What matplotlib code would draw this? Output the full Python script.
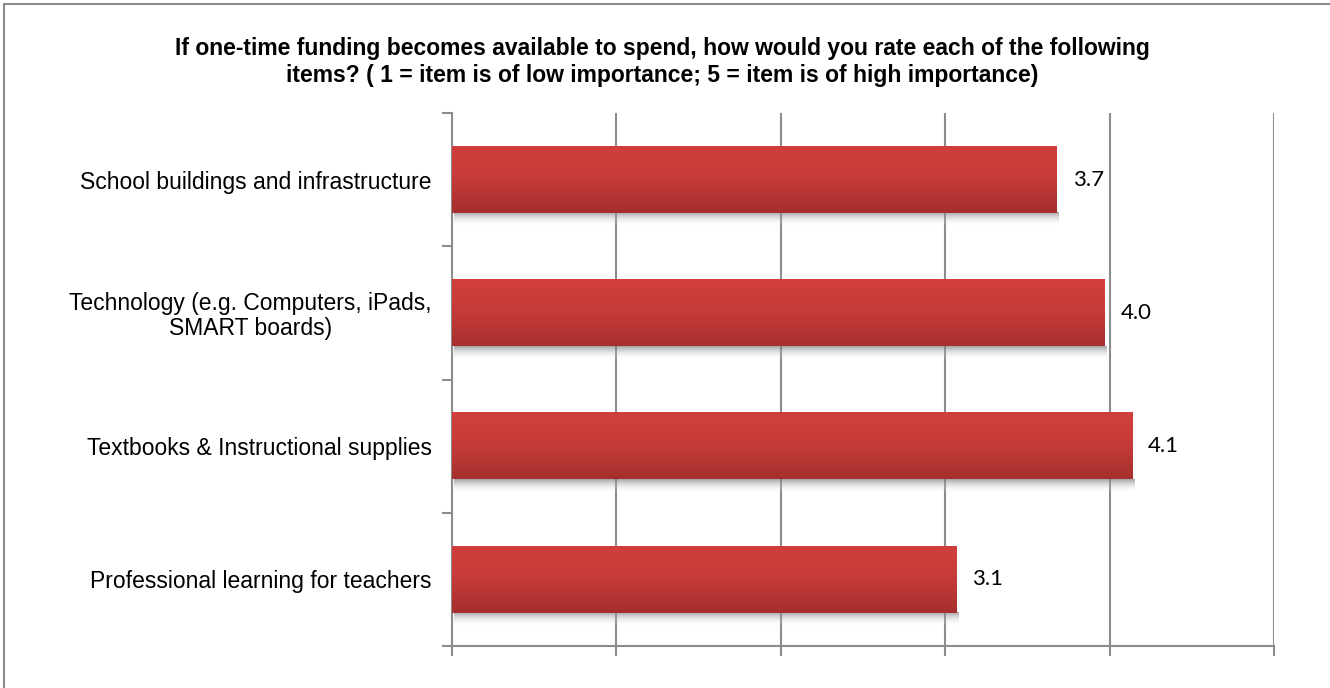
import matplotlib.pyplot as plt
from matplotlib.patches import Rectangle
from matplotlib.colors import LinearSegmentedColormap
import numpy as np

# average ratings (1 = low importance, 5 = high importance)
items = ['School buildings and infrastructure',
         'Technology (e.g. Computers, iPads,\nSMART boards)',
         'Textbooks & Instructional supplies',
         'Professional learning for teachers']
ratings = [3.68, 3.97, 4.14, 3.07]

title = ('If one-time funding becomes available to spend, how would you rate each of the following\n'
         'items? ( 1 = item is of low importance; 5 = item is of high importance)')

fig = plt.figure(figsize=(13.3, 6.88), dpi=100)
ax = fig.add_axes([452/1330, 42/688, (1274-452)/1330, (646-113)/688])

# outer frame of the chart area
fig.patches.append(Rectangle((4/1330, -0.05), 1.05, 1 - 4/688 + 0.05,
                             transform=fig.transFigure, fill=False,
                             edgecolor='#8c8c8c', linewidth=1.5))

grid_c = '#8c8c8c'
red_map = LinearSegmentedColormap.from_list('bar', ['#d13f3d', '#c53b39', '#a52f2e'])
shadow_map = LinearSegmentedColormap.from_list('shadow', [(0.45, 0.45, 0.45, 0.65), (1, 1, 1, 0)])
grad = np.linspace(0, 1, 100).reshape(-1, 1)

h = 0.5
for i, v in enumerate(ratings):
    # soft drop shadow under the bar
    ax.imshow(grad, cmap=shadow_map, aspect='auto', zorder=2,
              extent=(0.015, v + 0.015, i + h/2 + 0.1, i + h/2))
    ax.imshow(grad, cmap=red_map, aspect='auto', zorder=3,
              extent=(0, v, i + h/2, i - h/2))
    ax.text(v + 0.095, i, f'{v:.1f}', va='center', ha='left',
            fontsize=16, family='Lato', color='black')

ax.set_xlim(0, 5)
ax.set_ylim(3.5, -0.5)
ax.set_xticks(np.arange(0, 6))
ax.set_xticklabels([])
ax.set_yticks(range(len(items)))
ax.set_yticklabels(items, fontsize=16.5, family='Liberation Sans',
                   ha='right', multialignment='center', linespacing=1.1)
ax.tick_params(axis='y', which='major', length=0, pad=14.5)
ax.set_yticks(np.arange(-0.5, 4, 1), minor=True)
ax.tick_params(axis='y', which='minor', length=7, width=1.5, color=grid_c)
ax.tick_params(axis='x', length=7, width=1.5, color=grid_c)

ax.grid(axis='x', color=grid_c, linewidth=1.5, zorder=0)
ax.set_axisbelow(True)
for s in ['top', 'right']:
    ax.spines[s].set_visible(False)
for s in ['left', 'bottom']:
    ax.spines[s].set_color(grid_c)
    ax.spines[s].set_linewidth(1.5)

fig.text(662/1330, 1 - 62/688, title, ha='center', va='center',
         fontsize=16.5, fontweight='bold', family='Liberation Sans', linespacing=1.2)

fig.savefig('out.png', dpi=100, facecolor='white')
